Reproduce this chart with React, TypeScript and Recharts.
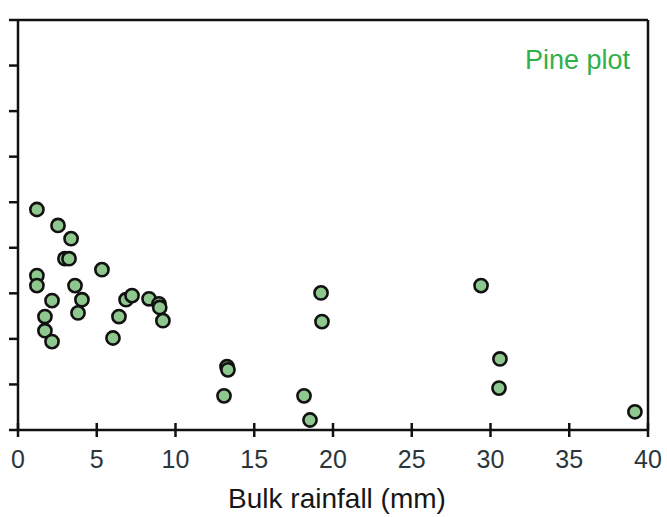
import React from "react";
import {
  ScatterChart,
  Scatter,
  XAxis,
  YAxis,
  ReferenceLine,
} from "recharts";

// bulk rainfall per sampling event (mm)
const rainfall = [
  1.2, 2.54, 3.37, 2.98, 3.24, 1.2, 1.2, 5.33, 3.62, 2.16, 4.06, 3.81, 1.71,
  1.71, 2.16, 6.03, 6.41, 6.86, 7.24, 8.32, 8.95, 9.0, 9.2, 13.27, 13.33,
  13.08, 19.24, 19.3, 18.16, 18.54, 29.4, 30.6, 30.54, 39.17,
];

// measured response under pine (axis is unlabelled)
const response = [
  4.84, 4.49, 4.2, 3.76, 3.76, 3.39, 3.17, 3.52, 3.17, 2.84, 2.86, 2.57, 2.49,
  2.18, 1.94, 2.02, 2.49, 2.86, 2.95, 2.88, 2.77, 2.69, 2.4, 1.39, 1.32, 0.75,
  3.01, 2.38, 0.75, 0.22, 3.17, 1.56, 0.92, 0.4,
];

const xTicks = [0, 5, 10, 15, 20, 25, 30, 35, 40];
const yTicks = [0, 1, 2, 3, 4, 5, 6, 7, 8, 9];

const points = rainfall.map((x, i) => ({ x, y: response[i] }));

const INK = "#111111";
const FONT = "'Liberation Sans', Arial, sans-serif";

const XTick = ({ x, y, payload }: any) => (
  <g>
    <line x1={x} x2={x} y1={y - 7} y2={y + 7} stroke={INK} strokeWidth={2.5} />
    <text
      x={x}
      y={y + 38}
      textAnchor="middle"
      fontSize={25}
      fontFamily={FONT}
      fill="#2a363c"
    >
      {payload.value}
    </text>
  </g>
);

const YTick = ({ x, y }: any) => (
  <line x1={x - 9} x2={x} y1={y} y2={y} stroke={INK} strokeWidth={2.5} />
);

const Dot = ({ cx, cy }: any) => (
  <circle cx={cx} cy={cy} r={6.6} fill="#8fc88f" stroke={INK} strokeWidth={2.6} />
);

const PlotTag = ({ viewBox }: any) => (
  <text
    x={viewBox.x + viewBox.width - 18}
    y={viewBox.y + 49}
    textAnchor="end"
    fontSize={27}
    fontFamily={FONT}
    fill="#2fb04c"
  >
    Pine plot
  </text>
);

export default function App() {
  return (
    <div style={{ position: "absolute", left: 0, top: 0, background: "#fff" }}>
      <ScatterChart
        width={667}
        height={517}
        margin={{ top: 20, right: 19, bottom: 0, left: 0 }}
      >
        <XAxis
          type="number"
          dataKey="x"
          domain={[0, 40]}
          ticks={xTicks}
          interval={0}
          height={87}
          tickSize={0}
          tickMargin={0}
          tickLine={false}
          tick={<XTick />}
          axisLine={{ stroke: INK, strokeWidth: 2.5 }}
          label={{
            value: "Bulk rainfall (mm)",
            position: "insideBottom",
            offset: 9,
            dx: 4,
            fontSize: 28,
            fontFamily: FONT,
            fill: "#161616",
          }}
        />
        <YAxis
          type="number"
          dataKey="y"
          domain={[0, 9]}
          ticks={yTicks}
          interval={0}
          width={18}
          tickSize={0}
          tickMargin={0}
          tickLine={false}
          tick={<YTick />}
          axisLine={{ stroke: INK, strokeWidth: 2.5 }}
        />
        <ReferenceLine y={9} stroke={INK} strokeWidth={2.5} label={<PlotTag />} />
        <ReferenceLine x={40} stroke={INK} strokeWidth={2.5} />
        <Scatter data={points} shape={<Dot />} isAnimationActive={false} />
      </ScatterChart>
    </div>
  );
}
